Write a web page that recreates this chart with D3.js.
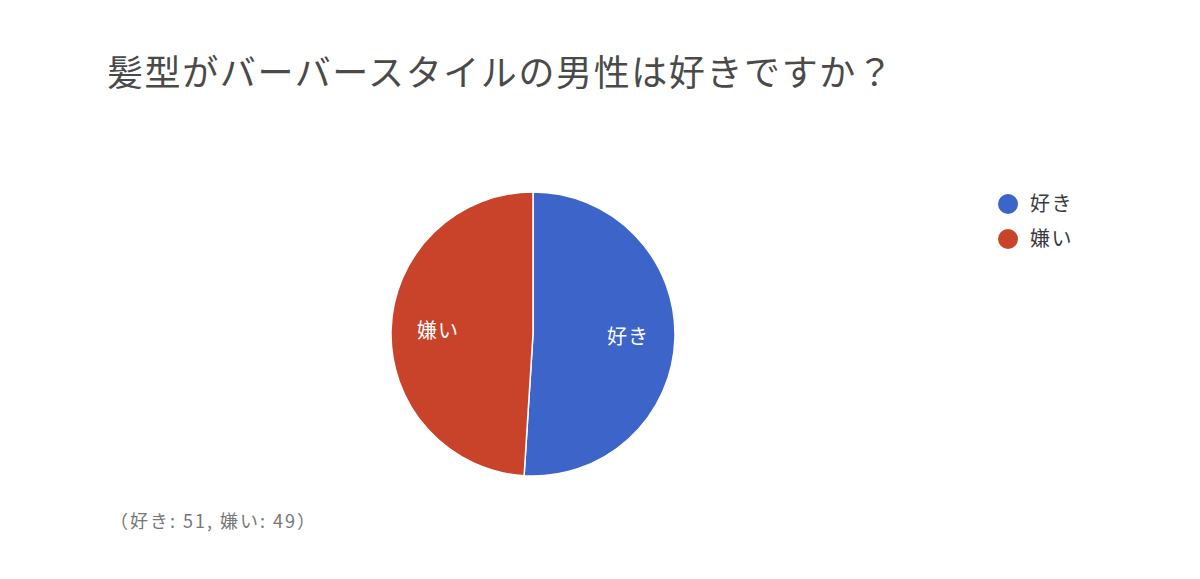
<!DOCTYPE html>
<html>
<head>
<meta charset="utf-8">
<script src="https://cdn.jsdelivr.net/npm/d3@7"></script>
<style>
  body { margin: 0; background: #fff; }
  svg { font-family: "Noto Sans CJK JP", "Noto Sans", sans-serif; }
</style>
</head>
<body>
<div id="chart"></div>
<script>
var categories = ['好き', '嫌い'];
var values = [51, 49];
var colors = ['#3d64c8', '#c9432a'];
var titleText = '髪型がバーバースタイルの男性は好きですか？';

var width = 1200, height = 579;
var cx = 533, cy = 334, radius = 142;

var svg = d3.select('#chart')
    .append('svg')
    .attr('width', width)
    .attr('height', height);

svg.append('text')
    .attr('x', 107)
    .attr('y', 86)
    .attr('font-size', 36)
    .attr('letter-spacing', 1.6)
    .attr('fill', '#4a4a4a')
    .text(titleText);

var color = d3.scaleOrdinal()
    .domain(categories)
    .range(colors);

var pie = d3.pie()
    .sort(null)
    .value(function(d){ return d.value; });

var data = categories.map(function(c, i){ return { name: c, value: values[i] }; });

var arc = d3.arc()
    .innerRadius(0)
    .outerRadius(radius);

var labelArc = d3.arc()
    .innerRadius(radius * 0.67)
    .outerRadius(radius * 0.67);

var g = svg.append('g')
    .attr('transform', 'translate(' + cx + ',' + cy + ')');

g.selectAll('.arc')
    .data(pie(data))
    .enter()
    .append('path')
    .attr('class', 'arc')
    .attr('d', arc)
    .style('fill', function(d){ return color(d.data.name); })
    .style('stroke', '#fff')
    .style('stroke-width', 1.5);

g.selectAll('.label')
    .data(pie(data))
    .enter()
    .append('text')
    .attr('class', 'label')
    .attr('transform', function(d){ return 'translate(' + labelArc.centroid(d) + ')'; })
    .attr('text-anchor', 'middle')
    .attr('dy', '0.35em')
    .attr('font-size', 20)
    .attr('letter-spacing', 1)
    .attr('fill', '#fff')
    .text(function(d){ return d.data.name; });

var legend = svg.selectAll('.legend')
    .data(categories)
    .enter()
    .append('g')
    .attr('class', 'legend')
    .attr('transform', function(d, i){ return 'translate(1008,' + (204 + i * 35) + ')'; });

legend.append('circle')
    .attr('r', 10)
    .style('fill', function(d){ return color(d); });

legend.append('text')
    .attr('x', 22)
    .attr('dy', '0.35em')
    .attr('font-size', 20)
    .attr('letter-spacing', 1.5)
    .attr('fill', '#3a3a3a')
    .text(function(d){ return d; });

svg.append('text')
    .attr('x', 110)
    .attr('y', 528)
    .attr('font-size', 18)
    .attr('letter-spacing', 2)
    .attr('fill', '#777')
    .text('（' + categories.map(function(c, i){ return c + ': ' + values[i]; }).join(', ') + '）');
</script>
</body>
</html>
